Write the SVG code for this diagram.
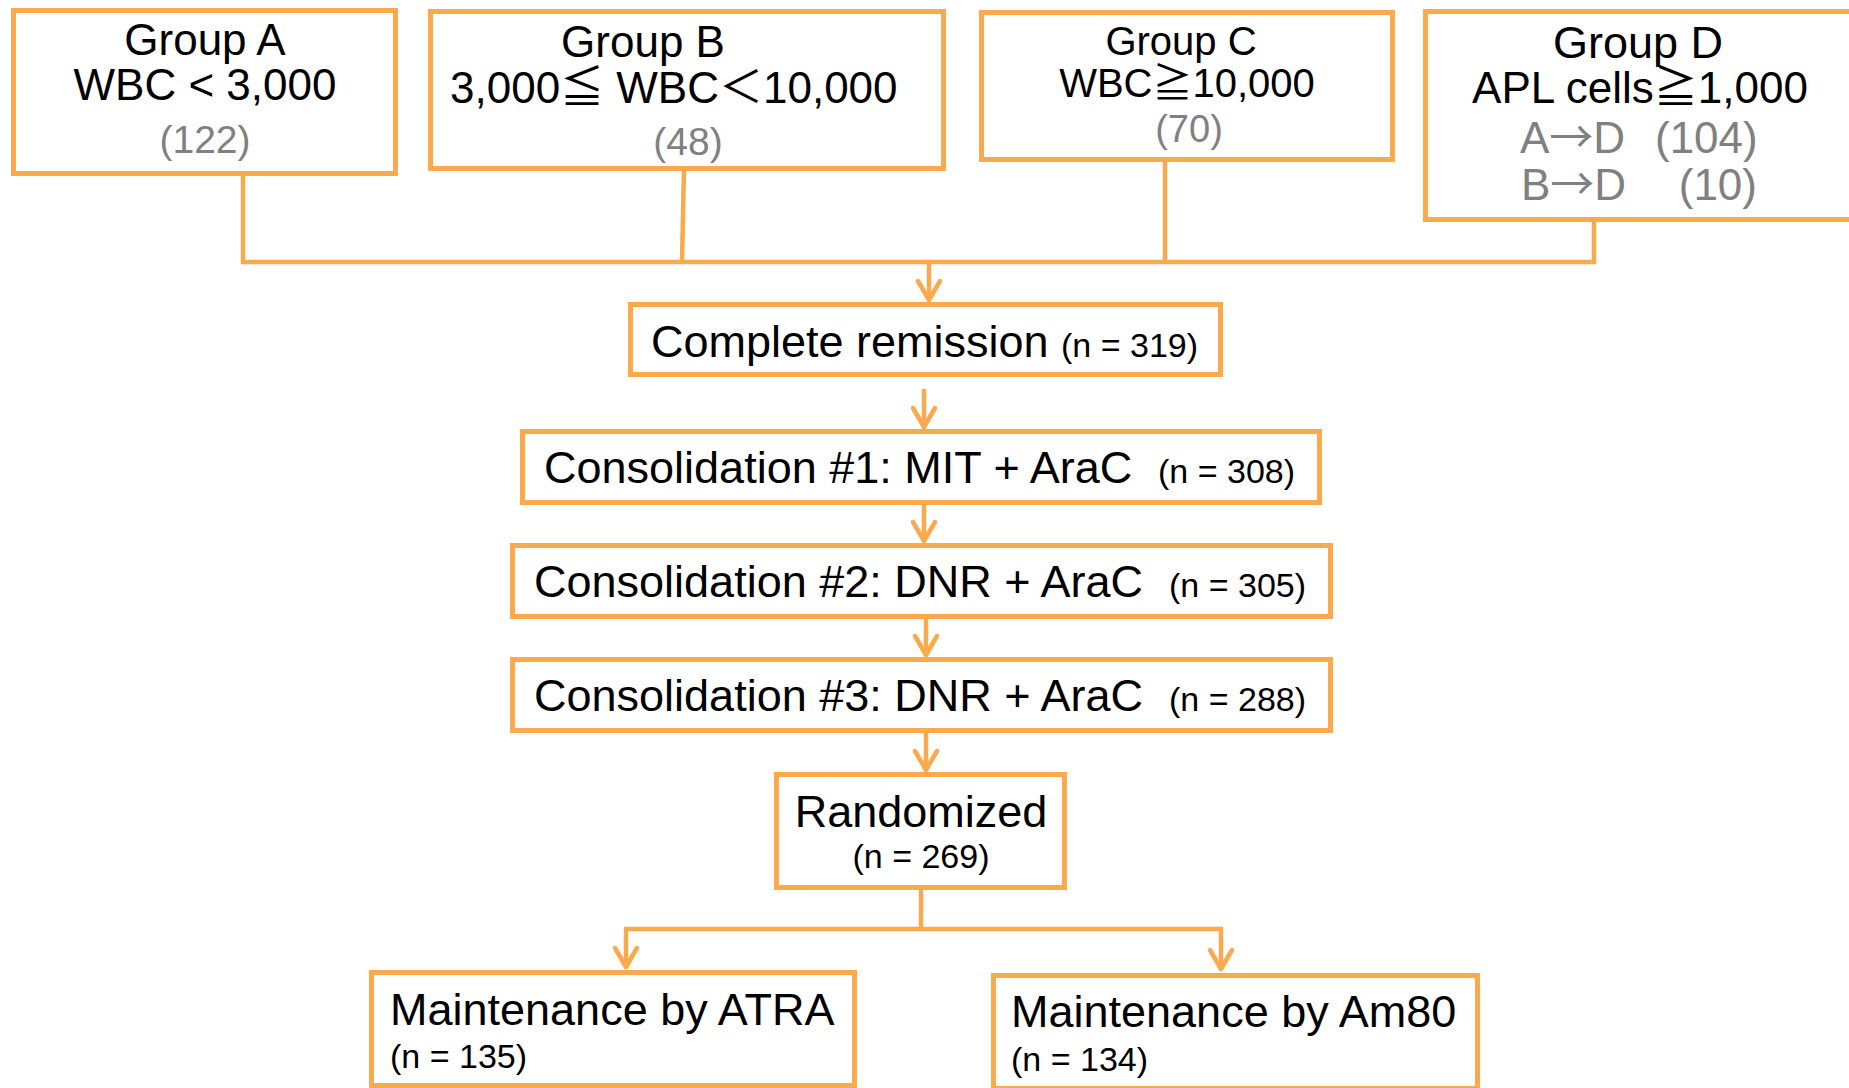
<svg xmlns="http://www.w3.org/2000/svg" width="1849" height="1088" viewBox="0 0 1849 1088">
  <style>
    .box { fill: #ffffff; stroke: #FAA94C; stroke-width: 5; }
    .wire { fill: none; stroke: #FAA94C; stroke-width: 4.5; }
    .arrow { fill: none; stroke: #FAA94C; stroke-width: 4.5; marker-end: url(#head); }
    text { font-family: "Liberation Sans", "Noto Sans CJK JP", sans-serif; fill: #000000; }
    .cjk { font-family: "Noto Sans CJK JP", sans-serif; }
    .t45 { font-size: 45px; }
    .t44 { font-size: 44px; }
    .t40 { font-size: 40px; }
    .n { font-size: 34px; }
    .grey { fill: #808080; }
    .mid { text-anchor: middle; }
  </style>
  <defs>
    <marker id="head" markerUnits="userSpaceOnUse" viewBox="-24 -15 28 30" refX="0" refY="0" markerWidth="28" markerHeight="30" orient="auto">
      <path d="M -19 -11 L 0 0 L -19 11" fill="none" stroke="#FAA94C" stroke-width="4.5" stroke-linecap="round" stroke-linejoin="round"/>
    </marker>
  </defs>
  <rect width="1849" height="1088" fill="#ffffff"/>

  <!-- connectors -->
  <g id="connectors">
    <path class="wire" d="M 243 175 L 243 262 L 1594 262 L 1594 220"/>
    <path class="wire" d="M 684 169 L 682 262"/>
    <path class="wire" d="M 1165 160 L 1165 262"/>
    <path class="arrow" d="M 929 262 L 929 300"/>
    <path class="arrow" d="M 924 389 L 924 427"/>
    <path class="arrow" d="M 924 505 L 924 541"/>
    <path class="arrow" d="M 926 619 L 926 655"/>
    <path class="arrow" d="M 926 733 L 926 770"/>
    <path class="wire" d="M 921 890 L 921 929 M 624 929 L 1223 929"/>
    <path class="arrow" d="M 626 929 L 626 967"/>
    <path class="arrow" d="M 1221 929 L 1221 969"/>
  </g>

  <!-- entry groups -->
  <g id="group-a">
    <rect class="box" x="13.5" y="10.5" width="382" height="163"/>
    <text class="t44 mid" x="205" y="55">Group A</text>
    <text class="t44 mid" x="205" y="100">WBC &lt; 3,000</text>
    <text class="grey mid" x="205" y="153" font-size="39">(122)</text>
  </g>
  <g id="group-b">
    <rect class="box" x="430.5" y="11.5" width="513" height="157"/>
    <text class="t44 mid" x="643" y="57">Group B</text>
    <text class="t44" x="450" y="103">3,000≦ WBC＜10,000</text>
    <text class="grey mid" x="688" y="155" font-size="39">(48)</text>
  </g>
  <g id="group-c">
    <rect class="box" x="981.5" y="12.5" width="411" height="147"/>
    <text class="t40 mid" x="1181" y="55">Group C</text>
    <text class="t40 mid" x="1187" y="97">WBC≧10,000</text>
    <text class="grey mid" x="1189" y="142" font-size="38">(70)</text>
  </g>
  <g id="group-d">
    <rect class="box" x="1425.5" y="11.5" width="500" height="208"/>
    <text class="t45 mid" x="1638" y="58">Group D</text>
    <text class="t44 mid" x="1640" y="103">APL cells≧1,000</text>
    <text class="t44 grey" x="1520" y="153">A<tspan class="cjk">→</tspan>D</text>
    <text class="t44 grey" x="1655" y="153">(104)</text>
    <text class="t44 grey" x="1521" y="200">B<tspan class="cjk">→</tspan>D</text>
    <text class="t44 grey" x="1757" y="200" text-anchor="end">(10)</text>
  </g>

  <!-- treatment flow -->
  <g id="complete-remission">
    <rect class="box" x="630.5" y="304.5" width="590" height="70"/>
    <text class="t45" x="651" y="357">Complete remission</text>
    <text class="n" x="1061" y="357">(n = 319)</text>
  </g>
  <g id="consolidation-1">
    <rect class="box" x="522.5" y="431.5" width="797" height="71"/>
    <text class="t45" x="544" y="483">Consolidation #1: MIT + AraC</text>
    <text class="n" x="1158" y="483">(n = 308)</text>
  </g>
  <g id="consolidation-2">
    <rect class="box" x="512.5" y="545.5" width="818" height="71"/>
    <text class="t45" x="534" y="597">Consolidation #2: DNR + AraC</text>
    <text class="n" x="1169" y="597">(n = 305)</text>
  </g>
  <g id="consolidation-3">
    <rect class="box" x="512.5" y="659.5" width="818" height="71"/>
    <text class="t45" x="534" y="711">Consolidation #3: DNR + AraC</text>
    <text class="n" x="1169" y="711">(n = 288)</text>
  </g>
  <g id="randomized">
    <rect class="box" x="776.5" y="774.5" width="288" height="113"/>
    <text class="t45 mid" x="921" y="827">Randomized</text>
    <text class="n mid" x="921" y="868">(n = 269)</text>
  </g>
  <g id="maintenance-atra">
    <rect class="box" x="371.5" y="972.5" width="483" height="113"/>
    <text class="t45" x="390" y="1025">Maintenance by ATRA</text>
    <text class="n" x="390" y="1068">(n = 135)</text>
  </g>
  <g id="maintenance-am80">
    <rect class="box" x="993.5" y="975.5" width="484" height="113"/>
    <text class="t45" x="1011" y="1027">Maintenance by Am80</text>
    <text class="n" x="1011" y="1071">(n = 134)</text>
  </g>
</svg>
